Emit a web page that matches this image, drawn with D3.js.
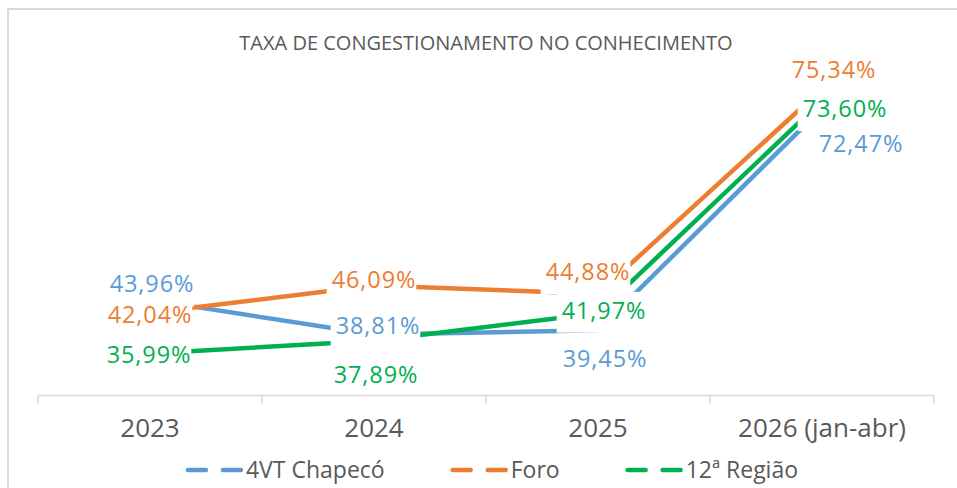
<!DOCTYPE html>
<html>
<head>
<meta charset="utf-8">
<script src="https://cdn.jsdelivr.net/npm/d3@7"></script>
<style>
  html, body { margin: 0; padding: 0; background: #ffffff; }
  svg { display: block; font-family: "Open Sans", "Noto Sans", sans-serif; }
</style>
</head>
<body>
<svg id="chart" width="957" height="488"></svg>
<script>
// ---------- data ----------
const title = "TAXA DE CONGESTIONAMENTO NO CONHECIMENTO";
const categories = ["2023", "2024", "2025", "2026 (jan-abr)"];
const seriesNames = ["4VT Chapecó", "Foro", "12ª Região"];
const vtChapeco = [43.96, 38.81, 39.45, 72.47];
const foro = [42.04, 46.09, 44.88, 75.34];
const regiao12 = [35.99, 37.89, 41.97, 73.60];

// ---------- styling / placement (not data) ----------
const colors = ["#5B9BD5", "#ED7D31", "#00B050"];
// label centre offsets relative to the point (manual placement as in the original)
const labelOffsets = [
  [[2, -16], [4, -9], [7, 28], [39, 35]],
  [[0, 2], [0, -6], [-10, -22], [12, -19]],
  [[-1, 1], [2, 34], [6, -3], [23, 8]]
];

const series = [vtChapeco, foro, regiao12].map((vals, i) => ({
  name: seriesNames[i], color: colors[i], values: vals, offsets: labelOffsets[i]
}));

const svg = d3.select("#chart");

// chart border (top/left visible)
svg.append("path")
  .attr("d", "M8,488 L8,9 L957,9")
  .attr("fill", "none").attr("stroke", "#d9d9d9").attr("stroke-width", 2);

// title
svg.append("text")
  .attr("x", 486).attr("y", 50)
  .attr("text-anchor", "middle")
  .attr("font-size", 20).attr("fill", "#595959")
  .text(title);

// scales
const x = d3.scaleBand().domain(categories).range([38, 934]);
const cx = c => x(c) + x.bandwidth() / 2;
const y = d3.scaleLinear().domain([30, 80]).range([393.7, 57.7]);

// lines
const line = d3.line().x((d, i) => cx(categories[i])).y(d => y(d));
const gLines = svg.append("g");
series.forEach(s => {
  gLines.append("path")
    .datum(s.values)
    .attr("d", line)
    .attr("fill", "none")
    .attr("stroke", s.color)
    .attr("stroke-width", 4.5)
    .attr("stroke-linecap", "butt")
    .attr("stroke-linejoin", "round");
});

// data labels with white boxes
const fmt = v => d3.format(".2f")(v).replace(".", ",") + "%";
const fs = 23.5, capH = fs * 0.714;
const gBoxes = svg.append("g");
const gLabels = svg.append("g");
series.forEach(s => {
  s.values.forEach((v, i) => {
    const px = cx(categories[i]) + s.offsets[i][0];
    const cy = y(v) + s.offsets[i][1];
    const t = gLabels.append("text")
      .attr("x", px).attr("y", cy + capH / 2)
      .attr("text-anchor", "middle")
      .attr("font-size", fs)
      .attr("letter-spacing", "0.9px")
      .attr("fill", s.color)
      .text(fmt(v));
    const bb = t.node().getBBox();
    gBoxes.append("rect")
      .attr("x", bb.x - 5).attr("width", bb.width + 5)
      .attr("y", cy - capH / 2 - 10).attr("height", capH + 24)
      .attr("fill", "#ffffff");
  });
});

// x axis
const axisY = 395.5;
const gAxis = svg.append("g").attr("transform", `translate(0,${axisY})`);
gAxis.call(d3.axisBottom(x).tickSize(0).tickPadding(23))
  .call(g => g.select(".domain").remove())
  .call(g => g.selectAll("text")
    .attr("font-family", "'Open Sans', sans-serif")
    .attr("font-size", 26).attr("fill", "#595959"));
gAxis.append("line")
  .attr("x1", x.range()[0]).attr("x2", x.range()[1])
  .attr("stroke", "#d9d9d9").attr("stroke-width", 1.5);
const bounds = categories.map(c => x(c)).concat([x.range()[1]]);
gAxis.selectAll("line.bt").data(bounds).join("line")
  .attr("class", "bt")
  .attr("x1", d => d).attr("x2", d => d)
  .attr("y1", 0).attr("y2", 8)
  .attr("stroke", "#d9d9d9").attr("stroke-width", 1.5);

// legend
const legendY = 470;
const gLeg = svg.append("g");
const items = series.map(s => {
  const g = gLeg.append("g");
  g.append("line").attr("x1", 2).attr("x2", 20).attr("y1", 0).attr("y2", 0)
    .attr("stroke", s.color).attr("stroke-width", 4.5).attr("stroke-linecap", "round");
  g.append("line").attr("x1", 37).attr("x2", 55).attr("y1", 0).attr("y2", 0)
    .attr("stroke", s.color).attr("stroke-width", 4.5).attr("stroke-linecap", "round");
  const t = g.append("text").attr("x", 60).attr("y", 8)
    .attr("font-size", 23).attr("fill", "#595959").text(s.name);
  return { g, w: 60 + t.node().getComputedTextLength() };
});
const gap = 66;
const total = d3.sum(items, d => d.w) + gap * (items.length - 1);
let lx = 492 - total / 2;
items.forEach(it => {
  it.g.attr("transform", `translate(${lx},${legendY})`);
  lx += it.w + gap;
});
</script>
</body>
</html>
